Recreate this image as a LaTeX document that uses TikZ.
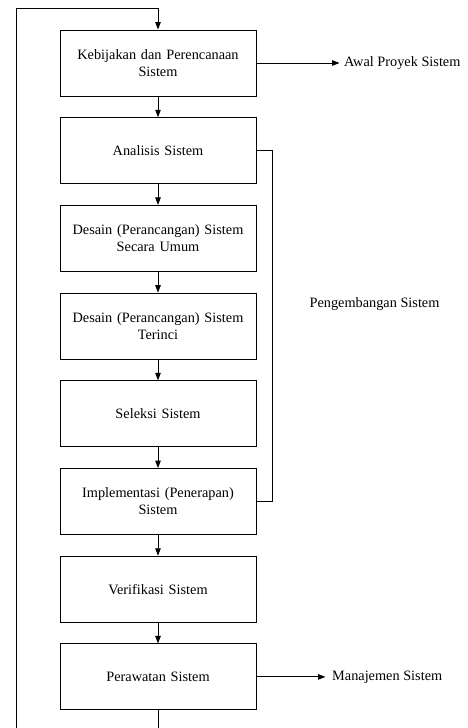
\documentclass[tikz,border=0pt]{standalone}
\usepackage{fontspec}
\setmainfont{Liberation Serif}
\usetikzlibrary{arrows.meta}
\begin{document}
\begin{tikzpicture}[x=1pt,y=-1pt,
  stepbox/.style={draw, line width=0.9pt, minimum width=196pt, minimum height=66pt, align=center, text width=185pt, inner sep=0pt, font=\fontsize{14.3}{17}\selectfont},
  lbl/.style={font=\fontsize{14.3}{17}\selectfont, inner sep=0pt},
  conn/.style={line width=0.9pt},
  arr/.style={conn, -{Triangle[length=7.5pt,width=5.5pt]}}]
\useasboundingbox (0,0) rectangle (468,728);
\node[stepbox] (b1) at (158,63) {Kebijakan dan Perencanaan\\Sistem};
\node[stepbox] (b2) at (158,150.7) {Analisis Sistem};
\node[stepbox] (b3) at (158,238.4) {Desain (Perancangan) Sistem\\Secara Umum};
\node[stepbox] (b4) at (158,326.1) {Desain (Perancangan) Sistem\\Terinci};
\node[stepbox] (b5) at (158,413.8) {Seleksi Sistem};
\node[stepbox] (b6) at (158,501.5) {Implementasi (Penerapan)\\Sistem};
\node[stepbox] (b7) at (158,589.2) {Verifikasi Sistem};
\node[stepbox] (b8) at (158,676.9) {Perawatan Sistem};
\draw[arr] (b1) -- (b2);
\draw[arr] (b2) -- (b3);
\draw[arr] (b3) -- (b4);
\draw[arr] (b4) -- (b5);
\draw[arr] (b5) -- (b6);
\draw[arr] (b6) -- (b7);
\draw[arr] (b7) -- (b8);
\node[lbl, anchor=west] (awal) at (344,63) {Awal Proyek Sistem};
\draw[arr] (b1.east) -- ([xshift=-4.5pt]awal.west);
\node[lbl, anchor=west] (man) at (332,676.9) {Manajemen Sistem};
\draw[arr] (b8.east) -- ([xshift=-6.5pt]man.west);
\node[lbl] (peng) at (374.5,304) {Pengembangan Sistem};
\coordinate (brt) at (272,150.7);
\coordinate (brb) at (272,501.5);
\draw[conn] (b2.east) -- (brt) -- (brb) -- (b6.east);
\coordinate (lt) at (16,8);
\coordinate (tc) at (158,8);
\coordinate (lb) at (16,728);
\coordinate (bc) at (158,728);
\draw[conn] (b8.south) -- (bc);
\draw[arr] (lb) -- (lt) -- (tc) -- (b1.north);
\end{tikzpicture}
\end{document}
